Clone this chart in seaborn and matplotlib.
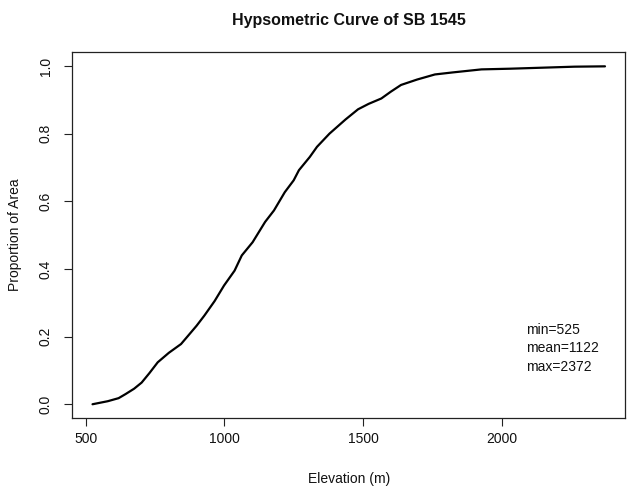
import matplotlib
matplotlib.use("Agg")
import matplotlib.pyplot as plt
import seaborn as sns
import numpy as np

# Cumulative proportion of basin area below each elevation
elevation = [525, 580, 619, 644, 675, 702, 730, 760, 800, 844, 870, 900, 928,
             965, 999, 1037, 1063, 1102, 1147, 1179, 1218, 1250, 1269, 1308,
             1334, 1379, 1437, 1482, 1520, 1566, 1600, 1637, 1695, 1759, 1823,
             1927, 2030, 2146, 2262, 2372]
proportion = [0.0, 0.009, 0.018, 0.030, 0.046, 0.064, 0.092, 0.124, 0.152,
              0.178, 0.203, 0.232, 0.262, 0.305, 0.351, 0.395, 0.440, 0.479,
              0.539, 0.573, 0.627, 0.662, 0.692, 0.731, 0.761, 0.800, 0.842,
              0.872, 0.888, 0.904, 0.924, 0.944, 0.960, 0.975, 0.981, 0.990,
              0.992, 0.995, 0.998, 0.999]

x_ticks = [500, 1000, 1500, 2000]
y_ticks = [0.0, 0.2, 0.4, 0.6, 0.8, 1.0]
stats_text = "min=525\nmean=1122\nmax=2372"

sns.set_theme(style="white")
plt.rcParams["font.family"] = ["Liberation Sans", "DejaVu Sans"]

fig = plt.figure(figsize=(6.29, 4.95), dpi=100)
ax = fig.add_axes([0.1145, 0.156, 0.9944 - 0.1145, 0.894 - 0.156])

sns.lineplot(x=elevation, y=proportion, ax=ax, color="black", linewidth=1.6)

span = elevation[-1] - elevation[0]
ax.set_xlim(elevation[0] - 0.04 * span, elevation[-1] + 0.04 * span)
ax.set_ylim(-0.04, 1.04)

ax.set_xticks(x_ticks)
ax.set_xticklabels([str(t) for t in x_ticks])
ax.set_yticks(y_ticks)
ax.set_yticklabels([f"{t:.1f}" for t in y_ticks], rotation=90, va="center")

for s in ax.spines.values():
    s.set_color("#222222")
    s.set_linewidth(0.9)
ax.tick_params(axis="both", direction="out", length=6, width=0.8,
               color="#222222", labelsize=10, labelcolor="#111111")
ax.tick_params(axis="x", pad=4)
ax.tick_params(axis="y", pad=8)
ax.tick_params(left=True, bottom=True)

ax.set_xlabel("Elevation (m)", fontsize=10, color="#111111", labelpad=19)
ax.set_ylabel("Proportion of Area", fontsize=10, color="#111111", labelpad=12)
ax.set_title("Hypsometric Curve of SB 1545", fontsize=11.5, fontweight="bold",
             color="#111111", pad=20)

ax.text(2087, 0.165, stats_text, ha="left", va="center", fontsize=10,
        color="#111111", linespacing=1.42)

fig.savefig("out.png", dpi=100, facecolor="white")
